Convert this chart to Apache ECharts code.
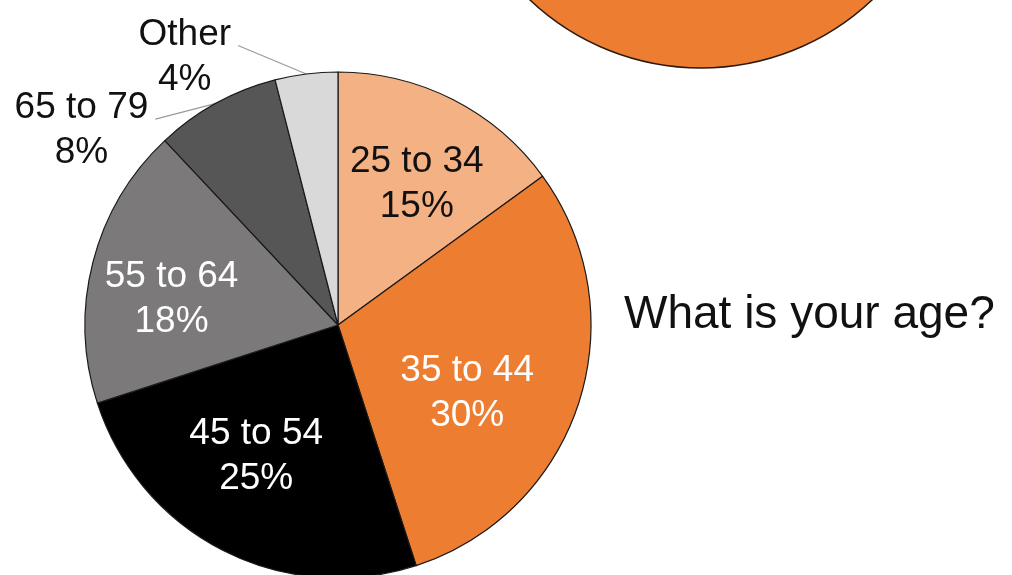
<!DOCTYPE html>
<html>
<head>
<meta charset="utf-8">
<title>What is your age?</title>
<script src="https://cdn.jsdelivr.net/npm/echarts@6/dist/echarts.min.js"></script>
<style>
  html, body { margin: 0; padding: 0; background: #fff; }
  #age { width: 1012px; height: 575px; }
</style>
</head>
<body>
<div id="age"></div>
<script>
// data
var ageGroups = ['25 to 34', '35 to 44', '45 to 54', '55 to 64', '65 to 79', 'Other'];
var agePercent = [15, 30, 25, 18, 8, 4];
// the cropped circle in the top right corner (a second, full pie)
var otherPie = [100];

var sliceColors = ['#F4B183', '#ED7D31', '#000000', '#7B7979', '#575656', '#D9D9D9'];
var labelColors = ['#111', '#fff', '#fff', '#fff', '#111', '#111'];
var outsideLabel = [false, false, false, false, true, true];
// nudges of each label from where echarts puts it
// (outside ones are measured from the right edge of the default label)
var labelShift = [[20, -25], [6, 28], [-23, 16], [-41, 7], [-105, 45], [-99, 3]];

var font = '"Liberation Sans", Arial, sans-serif';

var chart = echarts.init(document.getElementById('age'));

var pieData = ageGroups.map(function (name, i) {
    return {
        name: name,
        value: agePercent[i],
        itemStyle: { color: sliceColors[i] },
        label: {
            position: outsideLabel[i] ? 'outside' : 'inside',
            color: labelColors[i]
        },
        labelLine: { show: outsideLabel[i] }
    };
});

chart.setOption({
    animation: false,
    backgroundColor: '#fff',
    title: {
        text: 'What is your age?',
        left: 624,
        top: 292,
        padding: 0,
        textStyle: {
            fontFamily: font,
            fontSize: 46,
            fontWeight: 'normal',
            color: '#111'
        }
    },
    series: [
        {
            type: 'pie',
            silent: true,
            center: [701, -181],
            radius: 249,
            label: { show: false },
            labelLine: { show: false },
            itemStyle: { color: '#ED7D31', borderColor: '#2a1a10', borderWidth: 1.5 },
            data: otherPie
        },
        {
            type: 'pie',
            center: [338, 325],
            radius: 253,
            startAngle: 90,
            clockwise: true,
            avoidLabelOverlap: false,
            itemStyle: { borderColor: '#1a1a1a', borderWidth: 1.2 },
            label: {
                show: true,
                formatter: '{b}\n{c}%',
                fontFamily: font,
                fontSize: 37,
                lineHeight: 45,
                align: 'center'
            },
            labelLine: {
                length: 20,
                length2: 15,
                lineStyle: { color: '#9a9a9a', width: 1.2 }
            },
            labelLayout: function (params) {
                var i = params.dataIndex;
                var s = labelShift[i];
                if (!outsideLabel[i]) {
                    return { dx: s[0], dy: s[1] };
                }
                var r = params.labelRect;
                var cx = r.x + r.width + s[0];
                var edge = params.labelLinePoints[0];
                var end = [cx + r.width / 2 + 7, r.y + s[1] + r.height * 0.37];
                return {
                    dx: s[0],
                    dy: s[1],
                    align: 'center',
                    labelLinePoints: [end, end, edge]
                };
            },
            data: pieData
        }
    ]
});
</script>
</body>
</html>
